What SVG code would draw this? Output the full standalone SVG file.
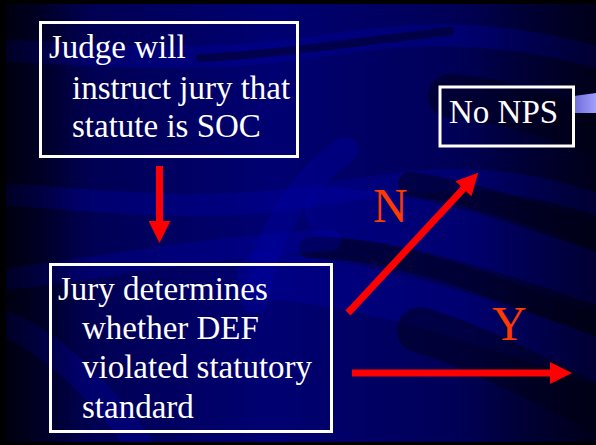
<svg xmlns="http://www.w3.org/2000/svg" width="596" height="445" viewBox="0 0 596 445">
  <defs>
    <linearGradient id="bg" x1="0" y1="0" x2="1" y2="0">
      <stop offset="0" stop-color="#00001c"/>
      <stop offset="0.15" stop-color="#000054"/>
      <stop offset="0.45" stop-color="#000072"/>
      <stop offset="0.75" stop-color="#000058"/>
      <stop offset="1" stop-color="#000026"/>
    </linearGradient>
    <linearGradient id="shade" x1="0" y1="0" x2="1" y2="0">
      <stop offset="0" stop-color="#000008" stop-opacity="0.55"/>
      <stop offset="0.12" stop-color="#000008" stop-opacity="0"/>
      <stop offset="0.8" stop-color="#000008" stop-opacity="0"/>
      <stop offset="1" stop-color="#000008" stop-opacity="0.4"/>
    </linearGradient>
    <linearGradient id="tab" x1="0" y1="0" x2="1" y2="0">
      <stop offset="0" stop-color="#6c6cd8"/>
      <stop offset="1" stop-color="#a0a0ff"/>
    </linearGradient>
    <clipPath id="field">
      <rect x="6" y="4" width="590" height="438"/>
    </clipPath>
    <marker id="head" viewBox="0 0 22 22" refX="1" refY="11" markerWidth="22" markerHeight="22" markerUnits="userSpaceOnUse" orient="auto">
      <path d="M0,0 L22,11 L0,22 Z" fill="#ff0000"/>
    </marker>
  </defs>
  <style>
    .box { fill: none; stroke: #ffffff; stroke-width: 3; }
    .txt { font-family: "Liberation Serif", "Times New Roman", serif; font-size: 33px; fill: #ffffff; }
    .lbl { font-family: "Liberation Serif", "Times New Roman", serif; font-size: 48px; fill: #ff3a00; }
    .arrow { fill: none; stroke: #ff0000; stroke-width: 7; marker-end: url(#head); }
    .lite { fill: none; stroke: #0000b0; stroke-opacity: 0.3; stroke-linecap: round; }
    .dark { fill: none; stroke: #000018; stroke-opacity: 0.5; stroke-linecap: round; }
  </style>

  <!-- frame and background -->
  <rect x="0" y="0" width="596" height="445" fill="#000000"/>
  <g id="background" clip-path="url(#field)">
    <rect x="6" y="4" width="590" height="438" fill="url(#bg)"/>
    <path class="lite" stroke-width="22" d="M0,50 C120,58 220,62 320,46 S500,30 600,58"/>
    <path class="dark" stroke-width="8" d="M200,58 C260,56 360,42 450,31"/>
    <path class="dark" stroke-width="44" d="M450,96 C510,100 560,120 620,142"/>
    <path class="lite" stroke-width="22" d="M0,194 C100,200 200,215 320,195 S500,172 600,205"/>
    <path class="dark" stroke-width="24" d="M410,184 C470,192 530,212 620,245"/>
    <path class="lite" stroke-width="50" d="M330,212 C420,218 500,245 600,280"/>
    <path class="dark" stroke-width="22" d="M310,248 C390,246 480,280 620,335"/>
    <path class="lite" stroke-width="46" d="M260,275 C380,285 480,320 600,362"/>
    <path class="dark" stroke-width="46" d="M420,330 C480,348 540,380 620,420"/>
    <path class="lite" stroke-width="22" d="M0,280 C100,268 200,248 330,240"/>
    <path class="lite" stroke-width="26" d="M0,322 C50,340 100,390 140,445"/>
    <path class="lite" stroke-width="26" stroke-opacity="0.2" d="M345,150 C295,185 265,240 255,300"/>
    <rect x="6" y="4" width="590" height="438" fill="url(#shade)"/>
    <path d="M574,96 L596,93 L596,113 L574,113 Z" fill="url(#tab)"/>
  </g>

  <!-- connectors -->
  <g id="connectors">
    <line class="arrow" x1="159.5" y1="166" x2="159.5" y2="222"/>
    <line class="arrow" x1="348" y1="313" x2="464" y2="188.1"/>
    <line class="arrow" x1="352" y1="373" x2="551" y2="373"/>
    <text class="lbl" x="373" y="222">N</text>
    <text class="lbl" x="492" y="340">Y</text>
  </g>

  <!-- nodes -->
  <g id="judge">
    <rect class="box" x="40.5" y="22.5" width="257" height="134"/>
    <text class="txt" x="49" y="58">Judge will</text>
    <text class="txt" x="72" y="99">instruct jury that</text>
    <text class="txt" x="72" y="137">statute is SOC</text>
  </g>
  <g id="jury">
    <rect class="box" x="50.5" y="264.5" width="281" height="167"/>
    <text class="txt" x="58" y="300">Jury determines</text>
    <text class="txt" x="82" y="339">whether DEF</text>
    <text class="txt" x="82" y="378">violated statutory</text>
    <text class="txt" x="82" y="418">standard</text>
  </g>
  <g id="no-nps">
    <rect class="box" x="440" y="87" width="133.5" height="59"/>
    <text class="txt" x="449" y="123">No NPS</text>
  </g>
</svg>
